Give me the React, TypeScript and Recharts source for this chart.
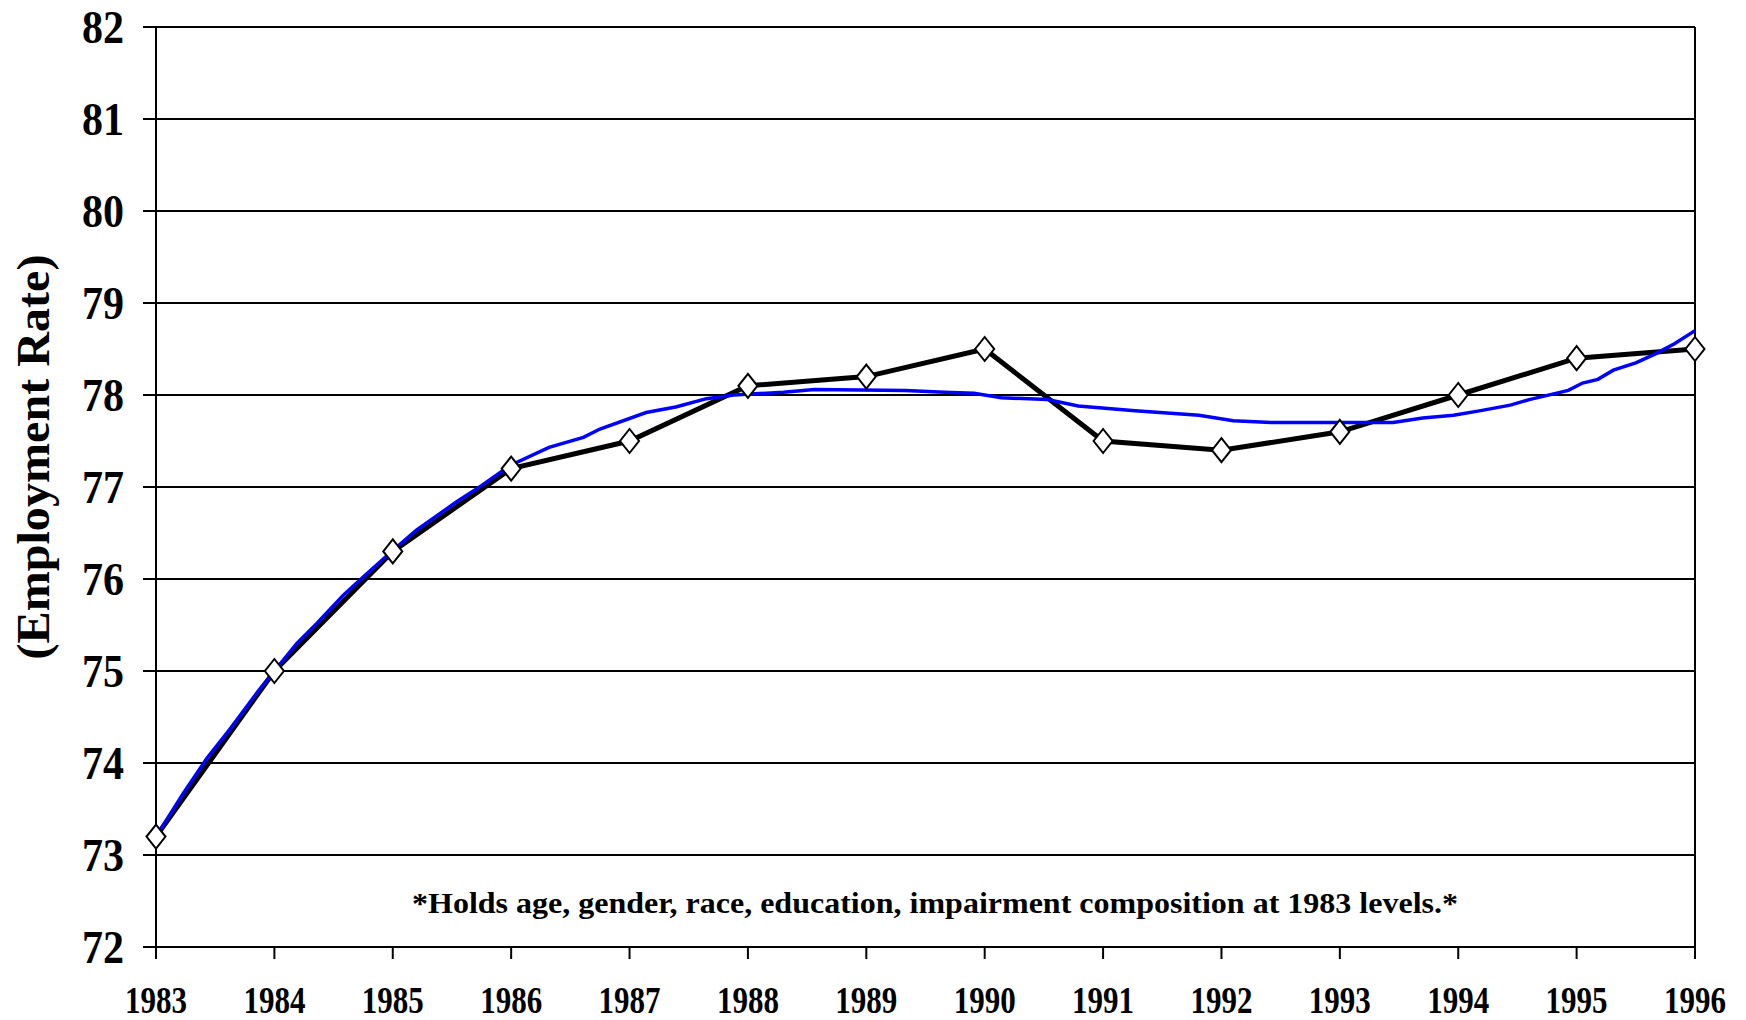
import React from "react";
import {
  LineChart,
  Line,
  XAxis,
  YAxis,
  CartesianGrid,
  ReferenceLine,
  Customized,
} from "recharts";

// observed employment rate, one value per year
const years = [1983, 1984, 1985, 1986, 1987, 1988, 1989, 1990, 1991, 1992, 1993, 1994, 1995, 1996];
const actualRate = [73.2, 75.0, 76.3, 77.2, 77.5, 78.1, 78.2, 78.5, 77.5, 77.4, 77.6, 78.0, 78.4, 78.5];

// composition-adjusted trend
const adjustedYears = [
  1983.0, 1983.23, 1983.43, 1983.62, 1983.88, 1984.0, 1984.19, 1984.36, 1984.58, 1984.75,
  1985.0, 1985.2, 1985.54, 1985.71, 1986.0, 1986.32, 1986.61, 1986.75, 1987.14, 1987.39,
  1987.65, 1987.88, 1988.3, 1988.56, 1989.33, 1989.66, 1989.91, 1990.14, 1990.53, 1990.79,
  1991.27, 1991.81, 1992.1, 1992.42, 1993.0, 1993.45, 1993.7, 1993.96, 1994.19, 1994.44,
  1994.6, 1994.93, 1995.05, 1995.18, 1995.31, 1995.5, 1995.67, 1995.83, 1996.0,
];
const adjustedRate = [
  73.2, 73.67, 74.05, 74.36, 74.81, 75.0, 75.3, 75.52, 75.82, 76.02,
  76.31, 76.53, 76.84, 76.98, 77.24, 77.43, 77.54, 77.63, 77.81, 77.87,
  77.96, 78.0, 78.03, 78.06, 78.05, 78.03, 78.02, 77.97, 77.95, 77.88,
  77.83, 77.78, 77.72, 77.7, 77.7, 77.7, 77.75, 77.78, 77.83, 77.89,
  77.95, 78.05, 78.13, 78.17, 78.27, 78.35, 78.45, 78.56, 78.7,
];

const yTicks = [72, 73, 74, 75, 76, 77, 78, 79, 80, 81, 82];
const yAxisTitle = "(Employment Rate)";
const note = "*Holds age, gender, race, education, impairment composition at 1983 levels.*";

const actualData = years.map((year, i) => ({ year, rate: actualRate[i] }));
const adjustedData = adjustedYears.map((year, i) => ({ year, rate: adjustedRate[i] }));

const textStyle: React.CSSProperties = {
  fontFamily: '"Liberation Serif", "Times New Roman", Times, serif',
  fontWeight: 700,
};

const Diamond = (props: any) => {
  const { cx, cy } = props;
  if (cx == null || cy == null) return null;
  return (
    <polygon
      points={`${cx},${cy - 12} ${cx + 9.5},${cy} ${cx},${cy + 12} ${cx - 9.5},${cy}`}
      fill="#fff"
      stroke="#000"
      strokeWidth={2}
    />
  );
};

const renderYTick = (props: any) => {
  const { x, y, payload } = props;
  return (
    <text
      x={x}
      y={y}
      dy={16}
      textAnchor="end"
      style={{ ...textStyle, fontSize: 47 }}
      fill="#000"
      textLength={42}
      lengthAdjust="spacingAndGlyphs"
    >
      {payload.value}
    </text>
  );
};

const renderXTick = (props: any) => {
  const { x, y, payload } = props;
  return (
    <text
      x={x}
      y={y}
      dy={52}
      textAnchor="middle"
      style={{ ...textStyle, fontSize: 37 }}
      fill="#000"
      textLength={62}
      lengthAdjust="spacingAndGlyphs"
    >
      {payload.value}
    </text>
  );
};

const Annotations = () => (
  <g>
    <text
      x={33}
      y={457}
      transform="rotate(-90, 33, 457)"
      textAnchor="middle"
      dominantBaseline="central"
      style={{ ...textStyle, fontSize: 46 }}
      fill="#000"
      textLength={405}
      lengthAdjust="spacingAndGlyphs"
    >
      {yAxisTitle}
    </text>
    <text
      x={935}
      y={913}
      textAnchor="middle"
      style={{ ...textStyle, fontSize: 30 }}
      fill="#000"
      textLength={1046}
      lengthAdjust="spacingAndGlyphs"
    >
      {note}
    </text>
  </g>
);

export default function App() {
  return (
    <div style={{ position: "absolute", left: 0, top: 0, width: 1746, height: 1020, background: "#fff" }}>
      <LineChart width={1746} height={1020} margin={{ top: 27, right: 51, bottom: 13, left: 0 }}>
        <CartesianGrid vertical={false} stroke="#000" strokeWidth={2} />
        <XAxis
          dataKey="year"
          type="number"
          domain={[1983, 1996]}
          ticks={years}
          interval={0}
          height={60}
          tickSize={12}
          tickMargin={2}
          stroke="#000"
          strokeWidth={2}
          tickLine={{ stroke: "#000", strokeWidth: 2 }}
          tick={renderXTick}
          allowDuplicatedCategory={false}
        />
        <YAxis
          type="number"
          domain={[72, 82]}
          ticks={yTicks}
          interval={0}
          width={156}
          tickSize={13}
          tickMargin={19}
          stroke="#000"
          strokeWidth={2}
          tickLine={{ stroke: "#000", strokeWidth: 2 }}
          tick={renderYTick}
        />
        <ReferenceLine x={1996} stroke="#000" strokeWidth={2} />
        <Line
          data={actualData}
          dataKey="rate"
          type="linear"
          stroke="#000"
          strokeWidth={5}
          dot={<Diamond />}
          isAnimationActive={false}
        />
        <Line
          data={adjustedData}
          dataKey="rate"
          type="linear"
          stroke="#0000FF"
          strokeWidth={3.5}
          dot={false}
          isAnimationActive={false}
        />
        <Customized component={Annotations} />
      </LineChart>
    </div>
  );
}
